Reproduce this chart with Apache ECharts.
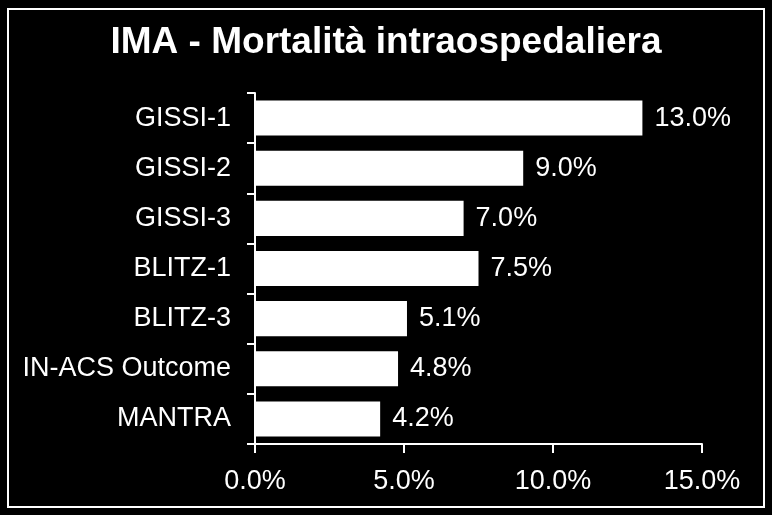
<!DOCTYPE html>
<html>
<head>
<meta charset="utf-8">
<script src="https://cdn.jsdelivr.net/npm/echarts@6/dist/echarts.min.js"></script>
<style>
html,body{margin:0;padding:0;background:#000;}
#c{width:772px;height:515px;}
</style>
</head>
<body>
<div id="c"></div>
<script>
const titleText = 'IMA - Mortalità intraospedaliera';
const categories = ['GISSI-1', 'GISSI-2', 'GISSI-3', 'BLITZ-1', 'BLITZ-3', 'IN-ACS Outcome', 'MANTRA'];
const mortality = [13.0, 9.0, 7.0, 7.5, 5.1, 4.8, 4.2];
const axisMin = 0, axisMax = 15, axisStep = 5;

const chart = echarts.init(document.getElementById('c'), null, {renderer: 'canvas'});
const font = '"Liberation Sans", Arial, sans-serif';
chart.setOption({
  backgroundColor: '#000',
  animation: false,
  graphic: [
    {type: 'rect', shape: {x: 8, y: 9, width: 756, height: 498},
     style: {fill: 'none', stroke: '#fff', lineWidth: 2}},
    {type: 'text', x: 386, y: 24,
     style: {text: titleText, fill: '#fff', align: 'center', verticalAlign: 'top',
       font: 'bold 37px "Liberation Sans", Arial, sans-serif'}}
  ],
  grid: {left: 255, right: 70, top: 93, bottom: 71},
  xAxis: {
    type: 'value', min: axisMin, max: axisMax, interval: axisStep,
    splitLine: {show: false},
    axisLine: {show: true, lineStyle: {color: '#fff', width: 2}},
    axisTick: {show: true, length: 9, lineStyle: {color: '#fff', width: 2}},
    axisLabel: {color: '#fff', fontSize: 27, fontFamily: font, margin: 24,
      formatter: v => v.toFixed(1) + '%'}
  },
  yAxis: {
    type: 'category', data: categories, inverse: true,
    axisLine: {show: true, lineStyle: {color: '#fff', width: 2}},
    axisTick: {show: true, length: 8, alignWithLabel: false, lineStyle: {color: '#fff', width: 2}},
    axisLabel: {color: '#fff', fontSize: 27, fontFamily: font, margin: 24}
  },
  series: [{
    type: 'bar', data: mortality, barCategoryGap: '30%',
    itemStyle: {color: '#fff'},
    label: {show: true, position: 'right', distance: 12, color: '#fff', fontSize: 27, fontFamily: font,
      formatter: p => p.value.toFixed(1) + '%'}
  }]
});
</script>
</body>
</html>
